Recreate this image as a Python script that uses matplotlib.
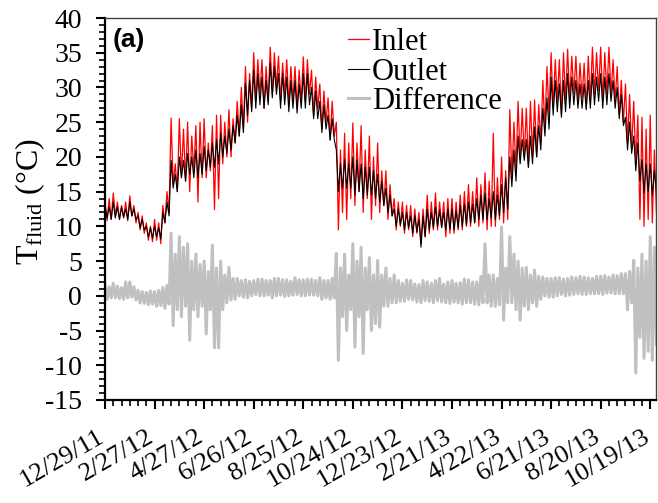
import matplotlib
matplotlib.use('Agg')
import matplotlib.pyplot as plt
import matplotlib.transforms as mtransforms
import numpy as np
import pandas as pd
from matplotlib.ticker import MultipleLocator

plt.rcParams['font.family'] = 'Liberation Serif'
plt.rcParams['mathtext.fontset'] = 'custom'
plt.rcParams['mathtext.rm'] = 'Liberation Serif'
plt.rcParams['mathtext.it'] = 'Liberation Serif:italic'
plt.rcParams['axes.unicode_minus'] = False

# readings every 2.5 days from 12/29/11 (one row = 10 days), alternating peak / trough
start = '2011-12-29'
inlet = [13.5, 10.8, 14, 11,   14.8, 11.5, 13.5, 11,   13, 11.2, 13.5, 10.8,   14.4, 11.5, 13, 10.5,
         12, 9.5, 11.5, 9,     10.5, 8, 10, 7.8,       11, 8, 10.5, 7.5,       13, 10.5, 15, 12,
         25.6, 16, 19, 15,     25.5, 17, 24, 16.5,     25, 15, 23, 18,         24.5, 13.5, 25, 17,
         25.5, 17, 22, 18,     24.5, 12.4, 26, 14,     26, 19, 25, 20,         26.8, 20, 25.5, 22,
         28, 23, 30, 24,       33, 25, 32, 27,         35, 28, 34, 29,         34, 27, 33, 28,
         35.8, 29, 35, 30,     34.5, 28, 33.5, 29,     34, 27.5, 33, 28,       33, 27, 32.5, 28,
         34.4, 28, 34, 29,     32.5, 26, 31.5, 27,     30.5, 24, 29.5, 25,     28.5, 22.5, 28, 23,
         25, 9.5, 21, 12,      23.4, 11, 22, 14,       24.9, 13, 22, 15,       24.5, 12, 21, 14,
         23, 11, 20, 13,       22, 12, 18, 13,         18, 11, 16, 11.5,       14, 9.5, 13.5, 10,
         13.5, 9, 13, 9.5,     13, 8.5, 12.5, 9,       12, 7.5, 12.5, 8.5,     14.5, 9, 13.5, 9.5,
         14.8, 9.5, 13.5, 10,  13.5, 8.5, 14, 9,       14, 9, 13.5, 9.5,       14.5, 9.5, 15, 10,
         16, 10, 15, 10.5,     17, 10, 16, 10.5,       17.7, 9.5, 16.5, 10,    23.4, 10, 17, 11,
         20, 10.5, 18, 11,     26.8, 17, 25, 18,       28, 19.6, 27, 20,       27, 18.5, 28, 20,
         28.2, 20, 27.5, 22,   31, 24, 33, 26,         35, 27, 34, 28,         34, 26, 35, 28,
         35.5, 28, 34.5, 29,   34.5, 28, 33.5, 28.5,   33.5, 27, 34.5, 28,     35.8, 29, 35, 29.5,
         35.8, 28, 35, 29,     35.8, 29, 34, 28,       33, 26, 31, 25,         30.5, 22, 29, 21,
         28, 19, 26, 11,       25.7, 10, 24, 11,       26, 10.5, 21, 12]
outlet = [13, 11.2, 12.8, 11,   13.5, 11.2, 12.8, 11,   12.8, 11.3, 12.5, 11,   13.5, 11.5, 12.5, 11,
          11.5, 9.8, 11, 9.5,   10, 8.5, 9.8, 8.3,      10, 8.5, 9.8, 8.2,      12, 10.5, 13.5, 11.5,
          19.5, 15.5, 17.5, 15, 20, 17, 19.5, 16.5,     20.5, 17.5, 20, 17,     21, 17, 20.5, 17.5,
          21.5, 18, 21, 18.5,   22, 18.5, 22.5, 19,     23.4, 20, 23, 20.5,     24, 21, 24.5, 22,
          26, 23, 27.5, 23.5,   30.5, 26, 31, 26.5,     32.5, 27, 32, 27.5,     31.5, 27, 31, 27.5,
          33.5, 28.5, 33, 29,   32, 27, 32, 27.5,       31.5, 26.5, 31, 27,     31, 26.3, 30.5, 27,
          32, 27, 32, 27.5,     30, 25.5, 29.5, 25.5,   28, 23.5, 27.5, 24,     26, 22.4, 25.5, 22.5,
          21, 15, 19, 15.5,     19.6, 15.5, 19, 15.5,   20, 14.5, 19.5, 15,     19, 14, 18.5, 14.5,
          18.5, 14.5, 18, 14,   17.5, 13.5, 16.5, 13,   15.5, 12, 14.5, 11.5,   12.5, 10, 12.5, 10.2,
          12, 9.5, 12, 9.8,     11.5, 9, 11.5, 9.2,     11, 7, 11.5, 8.5,       12.5, 9.5, 12, 9.8,
          12.8, 10, 12.3, 9.8,  12, 9.5, 12.5, 9.6,     12.5, 9.5, 12.2, 9.8,   13, 10, 13.2, 10.2,
          13.5, 10.5, 13.2, 10.5, 14, 11, 14.5, 11,     14.8, 11, 14, 11.2,     15, 11, 14.5, 11.5,
          16, 12, 17, 12.5,     20, 15.7, 21, 16.5,     23, 19, 22.5, 19.5,     22.5, 18.5, 23, 19,
          24.3, 20, 24.5, 21,   27, 23, 28.5, 24,       31.5, 26, 31, 26.5,     30.5, 25.7, 31, 26.5,
          32, 27, 31.5, 27.5,   31, 27, 30.5, 27,       30.5, 26.8, 31, 27,     32, 27.5, 31.5, 28,
          32, 27, 31.5, 27.5,   32, 28, 31, 27,         30, 25.5, 29, 24.5,     25.7, 21, 25, 20.5,
          23, 18, 22, 16.5,     19.6, 14.8, 19, 15,     19, 14.5, 18, 15]
difference = [1.5, -0.5, 1.3, -0.3,  1.8, -0.3, 1.4, -0.4,  1.2, -0.5, 2.0, -0.3,  2, -0.2, 1.3, -0.6,
              0.8, -1, 0.6, -1.1,    0.5, -1.3, 0.7, -1.2,  0.6, -1.5, 0.8, -1.4,  1.2, -1.8, 1.5, -1.2,
              9, -4.3, 6, -2,        8.5, -3, 7, -1.5,      7.5, -6.4, 5, -2,      6, -3, 4.5, -1.5,
              5, -5.5, 3.5, -2,      7.3, -7.5, 4, -7.5,    5, -2, 3, -1,          4.1, -0.6, 2.5, -0.5,
              2.5, 0, 2.2, -0.2,     2.3, -0.3, 2.1, 0,     2.2, 0.2, 2.4, 0,      2.4, 0, 2.2, 0.1,
              2.2, -0.3, 2.5, 0,     2.5, 0.1, 2.3, -0.1,   2.3, 0, 2.1, 0.1,      2.6, 0.2, 2.3, 0,
              2.3, 0, 2.4, 0.1,      2.4, 0.1, 2.2, 0,      2.6, -0.5, 2.2, -0.3,  2.2, -0.5, 2.5, -0.3,
              6.1, -9.3, 4, -3,      6, -5, 3, -2,          7.5, -7.4, 5, -3,      7, -8.3, 4, -2,
              5.5, -5, 3, -4,        5.1, -4.5, 3, -1.5,    4, -1.5, 2.5, -1,      3, -1, 2.2, -0.8,
              1.8, -0.8, 2.3, -0.5,  2.2, -0.6, 1.7, -0.9,  1.6, -1, 2.2, -0.7,    2, -0.8, 1.8, -1,
              2.2, -0.7, 2.5, -0.9,  1.7, -1, 2.0, -1.1,    2.2, -0.9, 1.8, -1.0,  1.9, -1.2, 2.4, -1.0,
              2.3, -1, 2.0, -1.2,    2, -1.3, 2.8, -1.0,    7.5, -1, 3, -1.5,      3, -1.5, 2.5, -1.3,
              9.9, -3.5, 4, -1,      8.5, -1, 6, -2,        5, -3.5, 4, -1.5,      4.1, -2, 3, -1,
              3.7, -1.5, 2.8, -0.5,  2.7, 0, 2.5, -0.2,     2.5, -0.2, 2.6, 0,     2.6, 0.2, 2.4, 0,
              2.5, 0.1, 2.7, 0.2,    2.6, 0.3, 2.8, 0.2,    2.7, 0.2, 2.6, 0.3,    2.5, 0.3, 2.8, 0.3,
              2.8, 0.2, 2.9, 0.4,    2.7, 0.4, 3.0, 0.3,    2.9, 0.3, 3.2, 0.3,    3.2, -2, 3.5, -1,
              5.1, -11.1, 4, -6,     6, -9, 5, -8,          8.5, -9.3, 7, -7]

tick_labels = ['12/29/11', '2/27/12', '4/27/12', '6/26/12', '8/25/12', '10/24/12',
               '12/23/12', '2/21/13', '4/22/13', '6/21/13', '8/20/13', '10/19/13']

dates = pd.date_range(start, periods=len(inlet), freq='60h')

fig = plt.figure(figsize=(6.58, 5.03), dpi=100)
ax = fig.add_axes([0.1596, 0.2048, 0.8374, 0.7594])

ax.plot(dates, inlet, color='red', lw=0.9, label='Inlet')
ax.plot(dates, outlet, color='black', lw=0.8, label='Outlet')
ax.plot(dates, difference, color='#c0c0c0', lw=2.2, label='Difference')

ax.set_ylim(-15, 40)
ax.set_xlim(pd.Timestamp('2011-12-29'), pd.Timestamp('2013-10-26'))
ax.yaxis.set_major_locator(MultipleLocator(5))
ax.yaxis.set_minor_locator(MultipleLocator(1))
major = pd.to_datetime(tick_labels, format='%m/%d/%y')
ax.set_xticks(major)
ax.set_xticklabels(tick_labels, rotation=30, ha='right', va='top',
                   rotation_mode='anchor', fontsize=19)
ax.set_xticks(pd.date_range(start, '2013-10-26', freq='10D'), minor=True)
ax.tick_params(axis='both', which='major', direction='out', length=6.5, width=1.5,
               top=False, right=False)
ax.tick_params(axis='y', which='major', labelsize=20, pad=10)
ax.tick_params(axis='both', which='minor', direction='out', length=4.5, width=1.2,
               top=False, right=False)
ax.tick_params(axis='x', which='major', pad=12)

# nudge the rotated date labels a little to the left so the last one fits
shift = mtransforms.ScaledTranslation(-0.08, 0, fig.dpi_scale_trans)
for lbl in ax.get_xticklabels():
    lbl.set_transform(lbl.get_transform() + shift)

for s in ['left', 'bottom']:
    ax.spines[s].set_linewidth(1.6)
for s in ['top', 'right']:
    ax.spines[s].set_linewidth(1.0)
    ax.spines[s].set_color('#404040')

ax.set_ylabel(r'T$_{\mathrm{fluid}}$ (°C)', fontsize=23)
ax.yaxis.set_label_coords(-0.105, 0.52)
ax.text(0.013, 0.975, '(a)', transform=ax.transAxes, fontsize=19, fontweight='bold',
        family='Liberation Sans', va='top', ha='left')

ax.legend(loc='upper left', bbox_to_anchor=(0.407, 1.022), frameon=False, fontsize=22,
          handlelength=0.7, handletextpad=0.1, labelspacing=0.02, borderpad=0.1)

fig.savefig('out.png', dpi=100)
